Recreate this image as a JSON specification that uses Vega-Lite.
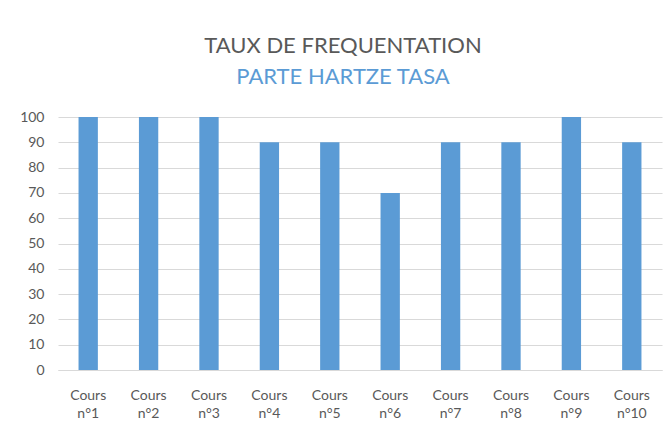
{
  "$schema": "https://vega.github.io/schema/vega-lite/v6.json",
  "width": 604,
  "height": 253,
  "autosize": "none",
  "padding": {"left": 58, "top": 117, "right": 6, "bottom": 64},
  "background": "white",
  "title": {
    "text": "TAUX DE FREQUENTATION",
    "subtitle": "PARTE HARTZE TASA",
    "anchor": "middle",
    "frame": "group",
    "dx": -17,
    "offset": 21,
    "font": "Lato",
    "fontSize": 22,
    "fontWeight": "normal",
    "color": "#595959",
    "subtitleFont": "Lato",
    "subtitleFontSize": 22,
    "subtitleColor": "#5B9BD5",
    "subtitlePadding": 9
  },
  "data": {
    "values": [
      {"cours": "Cours n°1", "taux": 100},
      {"cours": "Cours n°2", "taux": 100},
      {"cours": "Cours n°3", "taux": 100},
      {"cours": "Cours n°4", "taux": 90},
      {"cours": "Cours n°5", "taux": 90},
      {"cours": "Cours n°6", "taux": 70},
      {"cours": "Cours n°7", "taux": 90},
      {"cours": "Cours n°8", "taux": 90},
      {"cours": "Cours n°9", "taux": 100},
      {"cours": "Cours n°10", "taux": 90}
    ]
  },
  "mark": {"type": "bar", "color": "#5B9BD5"},
  "encoding": {
    "x": {
      "field": "cours",
      "type": "nominal",
      "sort": null,
      "scale": {"paddingInner": 0.68, "paddingOuter": 0.34},
      "axis": {
        "title": null,
        "labelAngle": 0,
        "labelExpr": "split(datum.label, ' ')",
        "labelLineHeight": 18,
        "labelFont": "Lato",
        "labelFontSize": 14,
        "labelColor": "#595959",
        "labelPadding": 18,
        "ticks": false,
        "domainColor": "#D9D9D9",
        "grid": false
      }
    },
    "y": {
      "field": "taux",
      "type": "quantitative",
      "scale": {"domain": [0, 100]},
      "axis": {
        "title": null,
        "values": [0, 10, 20, 30, 40, 50, 60, 70, 80, 90, 100],
        "labelFont": "Lato",
        "labelFontSize": 14,
        "labelColor": "#595959",
        "labelPadding": 14,
        "ticks": false,
        "domain": false,
        "gridColor": "#D9D9D9"
      }
    }
  },
  "config": {"view": {"stroke": null}}
}
